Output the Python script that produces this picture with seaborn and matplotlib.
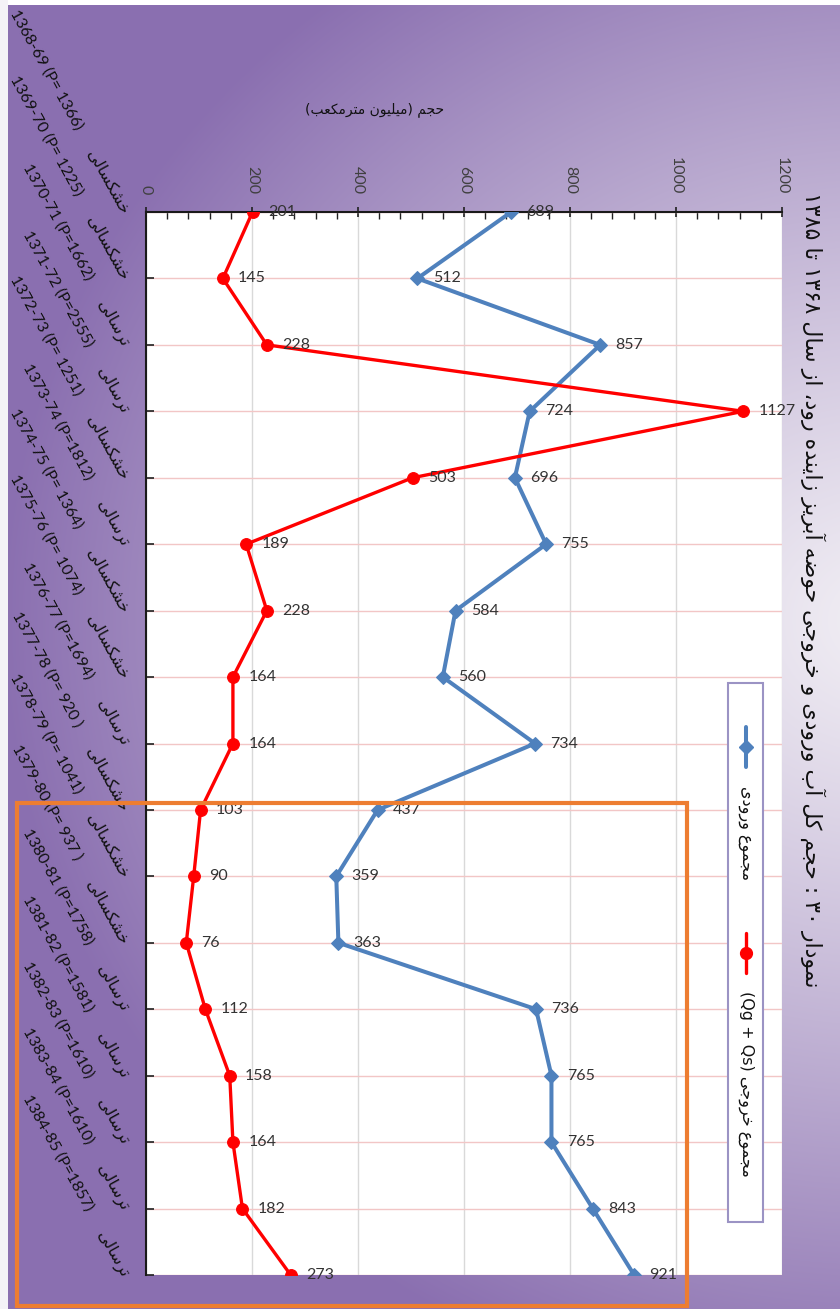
import re
import numpy as np
import pandas as pd
import matplotlib
matplotlib.use("Agg")
import matplotlib.pyplot as plt
import seaborn as sns
from matplotlib import font_manager
from matplotlib.ft2font import FT2Font
from matplotlib.patches import Rectangle
from matplotlib.lines import Line2D
from matplotlib.ticker import MultipleLocator

# ---------------------------------------------------------------- data
years = ["1368-69", "1369-70", "1370-71", "1371-72", "1372-73", "1373-74",
         "1374-75", "1375-76", "1376-77", "1377-78", "1378-79", "1379-80",
         "1380-81", "1381-82", "1382-83", "1383-84", "1384-85"]
rain = ["(P= 1366)", "(P= 1225)", "(P=1662)", "(P=2555)", "(P= 1251)",
        "(P=1812)", "(P= 1364)", "(P= 1074)", "(P=1694)", "(P= 920 )",
        "(P= 1041)", "(P= 937 )", "(P=1758)", "(P=1581)", "(P=1610)",
        "(P=1610)", "(P=1857)"]
DRY, WET = "خشکسالی", "ترسالی"
year_type = [DRY, DRY, WET, WET, DRY, WET, DRY, DRY, WET, DRY, DRY, DRY,
             WET, WET, WET, WET, WET]
inflow = [689, 512, 857, 724, 696, 755, 584, 560, 734, 437, 359, 363,
          736, 765, 765, 843, 921]
outflow = [201, 145, 228, 1127, 503, 189, 228, 164, 164, 103, 90, 76,
           112, 158, 164, 182, 273]
value_ticks = [0, 200, 400, 600, 800, 1000, 1200]

title_text = "نمودار ۳۰ : حجم کل آب ورودی و خروجی حوضه آبریز زاینده رود، از سال ۱۳۶۸ تا ۱۳۸۵"
axis_text = "حجم (میلیون مترمکعب)"
inflow_name = "مجموع ورودی"
outflow_name = "مجموع خروجی (Qg + Qs)"

# ------------------------------------------------- Persian text shaping
FORMS = {
    "آ": ("\uFE81", "\uFE82", None, None),
    "ا": ("\uFE8D", "\uFE8E", None, None),
    "ب": ("\uFE8F", "\uFE90", "\uFE91", "\uFE92"),
    "ت": ("\uFE95", "\uFE96", "\uFE97", "\uFE98"),
    "ج": ("\uFE9D", "\uFE9E", "\uFE9F", "\uFEA0"),
    "ح": ("\uFEA1", "\uFEA2", "\uFEA3", "\uFEA4"),
    "خ": ("\uFEA5", "\uFEA6", "\uFEA7", "\uFEA8"),
    "د": ("\uFEA9", "\uFEAA", None, None),
    "ر": ("\uFEAD", "\uFEAE", None, None),
    "ز": ("\uFEAF", "\uFEB0", None, None),
    "س": ("\uFEB1", "\uFEB2", "\uFEB3", "\uFEB4"),
    "ش": ("\uFEB5", "\uFEB6", "\uFEB7", "\uFEB8"),
    "ض": ("\uFEBD", "\uFEBE", "\uFEBF", "\uFEC0"),
    "ع": ("\uFEC9", "\uFECA", "\uFECB", "\uFECC"),
    "ل": ("\uFEDD", "\uFEDE", "\uFEDF", "\uFEE0"),
    "م": ("\uFEE1", "\uFEE2", "\uFEE3", "\uFEE4"),
    "ن": ("\uFEE5", "\uFEE6", "\uFEE7", "\uFEE8"),
    "ه": ("\uFEE9", "\uFEEA", "\uFEEB", "\uFEEC"),
    "و": ("\uFEED", "\uFEEE", None, None),
    "ی": ("\uFBFC", "\uFBFD", "\uFBFE", "\uFBFF"),
    "ک": ("\uFB8E", "\uFB8F", "\uFB90", "\uFB91"),
}

_face = FT2Font(font_manager.findfont("DejaVu Sans"))


def _has(ch):
    return _face.get_char_index(ord(ch)) != 0


# fall back to Arabic-block forms when the Persian ones are missing
if not all(_has(c) for c in FORMS["ی"]):
    FORMS["ی"] = ("\uFEEF", "\uFEF0", "\uFEF3", "\uFEF4")
if not all(_has(c) for c in FORMS["ک"]):
    FORMS["ک"] = ("\uFED9", "\uFEDA", "\uFEDB", "\uFEDC")
DIGITS = {chr(0x06F0 + k): (chr(0x06F0 + k) if _has(chr(0x06F0 + k)) else chr(0x0660 + k))
          for k in range(10)}


def shape(text):
    out = []
    for i, ch in enumerate(text):
        forms = FORMS.get(ch)
        if forms is None:
            out.append(DIGITS.get(ch, ch))
            continue
        prev = text[i - 1] if i > 0 else ""
        nxt = text[i + 1] if i + 1 < len(text) else ""
        jp = prev in FORMS and FORMS[prev][2] is not None
        jn = nxt in FORMS and forms[2] is not None
        if jp and jn:
            out.append(forms[3])
        elif jp:
            out.append(forms[1])
        elif jn:
            out.append(forms[2])
        else:
            out.append(forms[0])
    return "".join(out)


_LTR = re.compile(r"[0-9A-Za-z\u06F0-\u06F9\u0660-\u0669]"
                  r"(?:[0-9A-Za-z\u06F0-\u06F9\u0660-\u0669 +=.\-]*[0-9A-Za-z\u06F0-\u06F9\u0660-\u0669])?")
_MIRROR = {"(": ")", ")": "("}


def fa(text):
    """Shape Persian text and lay it out in visual (left-to-right) order."""
    s = shape(text)
    parts, pos = [], 0
    for m in _LTR.finditer(s):
        if m.start() > pos:
            parts.append(("r", s[pos:m.start()]))
        parts.append(("l", m.group()))
        pos = m.end()
    if pos < len(s):
        parts.append(("r", s[pos:]))
    out = []
    for kind, chunk in reversed(parts):
        if kind == "r":
            out.append("".join(_MIRROR.get(c, c) for c in reversed(chunk)))
        else:
            out.append(chunk)
    return "".join(out)


# ---------------------------------------------------------------- figure
sns.set_style("white")
plt.rcParams["font.family"] = ["Lato", "DejaVu Sans"]

W, H = 840, 1309
fig = plt.figure(figsize=(W / 100, H / 100), dpi=100)


def fx(px):
    return px / W


def fy(py):
    return 1 - py / H


# purple gradient backdrop
bg = fig.add_axes([0, 0, 1, 1], zorder=-10)
yy, xx = np.mgrid[0:H, 0:W]
t = np.sqrt(((xx - 880) / 880.0) ** 2 + ((yy - 620) / 800.0) ** 2)
t = np.clip(t, 0, 1) ** 1.15
light = np.array([0xF1, 0xEE, 0xF4]) / 255
dark = np.array([0x8A, 0x6F, 0xB0]) / 255
img = light * (1 - t[..., None]) + dark * t[..., None]
img[:5, :] = 1.0
img[:, :8] = np.array([0.96, 0.95, 0.97])
bg.imshow(img, extent=[0, 1, 0, 1], aspect="auto", origin="upper")
bg.axis("off")

# chart area
ax = fig.add_axes([fx(146), fy(1275), fx(782) - fx(146), (1275 - 212) / H])
ax.set_facecolor("white")

df = pd.DataFrame({"pos": np.arange(len(years)), "inflow": inflow, "outflow": outflow})

sns.lineplot(data=df, x="inflow", y="pos", orient="y", sort=False, estimator=None,
             color="#4F81BD", lw=2.9, marker="D", markersize=7,
             markeredgecolor="#4F81BD", ax=ax, zorder=3)
sns.lineplot(data=df, x="outflow", y="pos", orient="y", sort=False, estimator=None,
             color="#FF0000", lw=2.4, marker="o", markersize=8.5,
             markeredgecolor="#FF0000", ax=ax, zorder=4)

for i, v in enumerate(inflow):
    ax.annotate(str(v), (v, i), xytext=(11, 0), textcoords="offset points",
                ha="left", va="center", fontsize=11.5, color="#333333", zorder=5)
for i, v in enumerate(outflow):
    ax.annotate(str(v), (v, i), xytext=(11, 0), textcoords="offset points",
                ha="left", va="center", fontsize=11.5, color="#333333", zorder=5)

ax.set_xlim(0, 1200)
ax.set_ylim(len(years) - 1, 0)
ax.set_xlabel("")
ax.set_ylabel("")

# value axis along the top
ax.xaxis.tick_top()
ax.set_xticks(value_ticks)
ax.set_xticklabels([str(v) for v in value_ticks], rotation=-90, fontsize=11.5,
                   color="#404040")
ax.xaxis.set_minor_locator(MultipleLocator(40))
ax.tick_params(axis="x", which="major", direction="inout", length=7, width=1.2,
               color="#202020", pad=9.5, top=True, bottom=False)
ax.tick_params(axis="x", which="minor", direction="in", length=5, width=1,
               color="#202020", top=True, bottom=False)

# category axis along the left
cat_labels = [f"{y} {p}      {fa(w)}" for y, p, w in zip(years, rain, year_type)]
ax.set_yticks(df["pos"])
ax.set_yticklabels(cat_labels, fontsize=11.5, color="#111111")
for lab in ax.get_yticklabels():
    lab.set_rotation(-61)
    lab.set_rotation_mode("anchor")
    lab.set_ha("right")
    lab.set_va("center")
ax.tick_params(axis="y", direction="in", length=6, width=1.2, color="#202020",
               pad=15, left=True, right=False)

ax.xaxis.grid(True, color="#D9D9D9", lw=1)
ax.yaxis.grid(True, color="#F2C6C6", lw=1)
ax.set_axisbelow(True)
for side in ("right", "bottom"):
    ax.spines[side].set_visible(False)
for side in ("top", "left"):
    ax.spines[side].set_color("#1A1A1A")
    ax.spines[side].set_linewidth(1.5)

# axis title
fig.text(fx(375), fy(110), fa(axis_text), ha="center", va="center",
         fontsize=10, color="#111111", family="DejaVu Sans")

# chart title
fig.text(fx(813), fy(590), fa(title_text), rotation=-90, ha="center", va="center",
         fontsize=15.8, color="#111111", family="DejaVu Sans")

# legend
fig.add_artist(Rectangle((fx(728), fy(1222)), fx(763) - fx(728), (1222 - 683) / H,
                         transform=fig.transFigure, facecolor="white",
                         edgecolor="#9B93C4", lw=1.5, zorder=2))
fig.add_artist(Line2D([fx(746)] * 2, [fy(727), fy(767)], transform=fig.transFigure,
                      color="#4F81BD", lw=2.9, zorder=3))
fig.add_artist(Line2D([fx(746)], [fy(747)], transform=fig.transFigure, color="#4F81BD",
                      marker="D", markersize=7, zorder=3))
fig.text(fx(746), fy(833), fa(inflow_name), rotation=-90, ha="center", va="center",
         fontsize=11.5, color="#111111", family="DejaVu Sans", zorder=3)
fig.add_artist(Line2D([fx(746)] * 2, [fy(933), fy(973)], transform=fig.transFigure,
                      color="#FF0000", lw=2.4, zorder=3))
fig.add_artist(Line2D([fx(746)], [fy(953)], transform=fig.transFigure, color="#FF0000",
                      marker="o", markersize=8.5, zorder=3))
fig.text(fx(746), fy(1084), fa(outflow_name), rotation=-90, ha="center", va="center",
         fontsize=11.5, color="#111111", family=["DejaVu Sans"], zorder=3)

# highlight frame around the later years
fig.add_artist(Rectangle((fx(17), fy(1306)), fx(687) - fx(17), (1306 - 803) / H,
                         transform=fig.transFigure, facecolor="none",
                         edgecolor="#ED7D31", lw=3, zorder=6))

fig.savefig("out.png", dpi=100)
